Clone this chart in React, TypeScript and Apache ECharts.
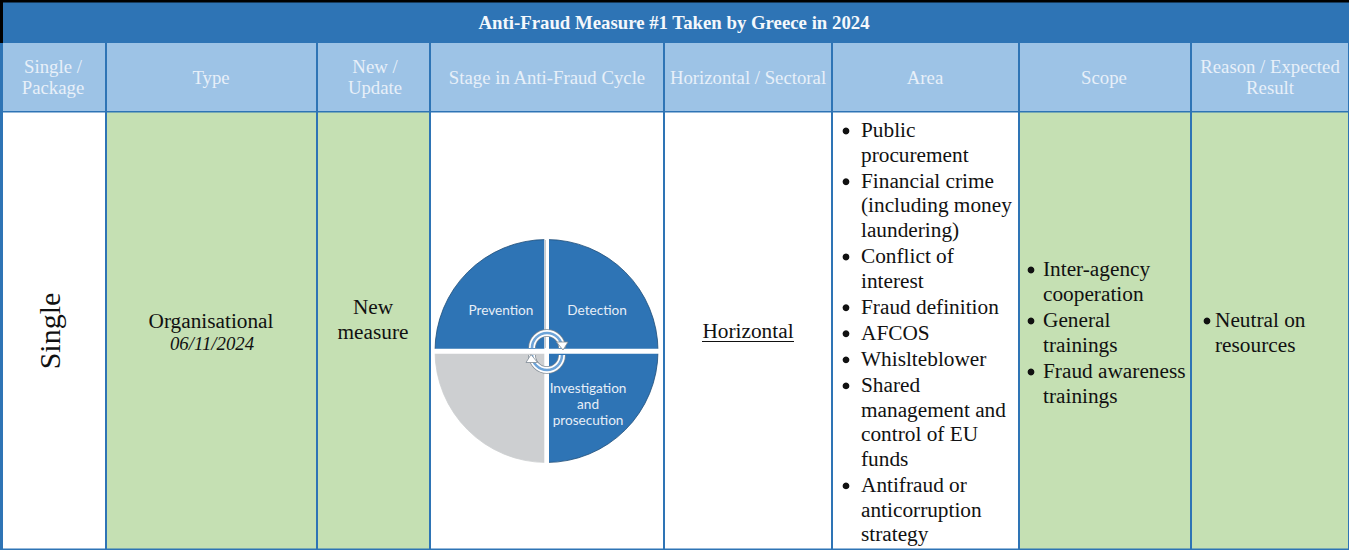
import React, { useEffect, useRef } from "react";
import * as echarts from "echarts";

const title = "Anti-Fraud Measure #1 Taken by Greece in 2024";
const headers = [
  ["Single /", "Package"],
  ["Type"],
  ["New /", "Update"],
  ["Stage in Anti-Fraud Cycle"],
  ["Horizontal / Sectoral"],
  ["Area"],
  ["Scope"],
  ["Reason / Expected", "Result"],
];
const packaging = "Single";
const typeName = "Organisational";
const typeDate = "06/11/2024";
const newUpdate = ["New", "measure"];
const horizontal = "Horizontal";
const areaItems = [
  ["Public", "procurement"],
  ["Financial crime", "(including money", "laundering)"],
  ["Conflict of", "interest"],
  ["Fraud definition"],
  ["AFCOS"],
  ["Whislteblower"],
  ["Shared", "management and", "control of EU", "funds"],
  ["Antifraud or", "anticorruption", "strategy"],
];
const scopeItems = [
  ["Inter-agency", "cooperation"],
  ["General", "trainings"],
  ["Fraud awareness", "trainings"],
];
const reasonItems = [["Neutral on", "resources"]];
const cycleNames = ["Detection", "Investigation\nand\nprosecution", "", "Prevention"];
const cycleValues = [1, 1, 1, 1];

const colX = [1.5, 106, 317, 430, 664, 832, 1019, 1191, 1349];
const labelShift = [[9, 1], [0, 11], [0, 0], [-4, 1]];
const BLUE = "#2e74b5";
const HEAD = "#9dc3e6";
const GREEN = "#c5e0b3";
const SERIF = '"Liberation Serif", serif';
const BODY = 21.3;

function txt(x: number, y: number, text: string, o: any = {}) {
  return {
    type: "text",
    x,
    y,
    z: 5,
    rotation: o.rotation || 0,
    style: {
      text,
      fill: o.fill || "#111",
      font: `${o.style || "normal"} ${o.weight || "normal"} ${o.size || BODY}px ${SERIF}`,
      align: o.align || "center",
      verticalAlign: "middle",
    },
  };
}

function bullets(items: string[][], startY: number, bulletX: number, textX: number, step: number, gap: number) {
  const out: any[] = [];
  let y = startY;
  items.forEach((lines) => {
    out.push({ type: "circle", z: 5, shape: { cx: bulletX, cy: y + 1, r: 3.4 }, style: { fill: "#111" } });
    lines.forEach((l) => {
      out.push(txt(textX, y, l, { align: "left" }));
      y += step;
    });
    y += gap;
  });
  return out;
}

export default function App() {
  const ref = useRef<HTMLDivElement>(null);
  useEffect(() => {
    const chart = echarts.init(ref.current!, null, { renderer: "svg" });
    const el: any[] = [];
    const rect = (x: number, y: number, w: number, h: number, fill: string, z = 0) =>
      el.push({ type: "rect", z, shape: { x, y, width: w, height: h }, style: { fill } });

    rect(0, 0, 1349, 550, "#ffffff");
    rect(0, 0, 1349, 43, BLUE);
    rect(0, 43, 1349, 68, HEAD);
    [1, 2, 6, 7].forEach((i) => rect(colX[i], 112, colX[i + 1] - colX[i], 438, GREEN));
    rect(0, 0, 1349, 2.5, "#000000", 1);
    rect(0, 0, 3, 43, "#000000", 1);
    rect(0, 43, 3, 507, BLUE, 1);
    rect(0, 111, 1349, 1.5, BLUE, 1);
    rect(0, 548.5, 1349, 1.5, BLUE, 1);
    colX.slice(1).forEach((x) => rect(x - 1, 43, 2, 507, BLUE, 1));

    el.push(txt(674, 22.5, title, { fill: "#f4f8fc", weight: "bold", size: 18.8 }));

    const headerCx = [53, 211, 375, 547, 748, 925, 1104, 1270];
    headers.forEach((lines, i) => {
      lines.forEach((l, j) => {
        const y = lines.length === 2 ? 66.3 + j * 21 : 77.3;
        el.push(txt(headerCx[i], y, l, { fill: "#e8f0f9", size: 18.75 }));
      });
    });

    el.push(txt(49.5, 331, packaging, { size: 30, rotation: Math.PI / 2 }));
    el.push(txt(211, 321, typeName));
    el.push(txt(212, 343, typeDate, { style: "italic", size: 18.8 }));
    newUpdate.forEach((l, i) => el.push(txt(373, 307 + i * 25, l)));
    el.push(txt(748, 331, horizontal));
    el.push({ type: "line", z: 5, shape: { x1: 702, y1: 341.5, x2: 794, y2: 341.5 }, style: { stroke: "#111", lineWidth: 1 } });

    el.push(...bullets(areaItems, 130, 846, 861, 24.65, 1.4));
    el.push(...bullets(scopeItems, 269, 1031, 1043, 25, 1));
    el.push(...bullets(reasonItems, 320, 1207, 1215, 24.5, 0));

    // white cross between the quadrants of the cycle
    rect(544.3, 236, 4.7, 230, "#ffffff", 4);
    rect(431, 348.8, 232, 5, "#ffffff", 4);
    rect(544.6, 240, 1.4, 108, "#c9cbcd", 4);

    // cycle arrows
    const arcArrow = (cx: number, cy: number, a0: number, a1: number, pts: number[][]) => {
      const arc = (w: number, stroke: string) =>
        el.push({
          type: "arc",
          z: 4,
          shape: { cx, cy, r: 15, startAngle: a0, endAngle: a1, clockwise: true },
          style: { stroke, lineWidth: w, fill: "none" },
        });
      arc(7.5, "#7f8a94");
      arc(6, "#ffffff");
      arc(2.6, "#6ea4d8");
      el.push({ type: "polygon", z: 4, shape: { points: pts }, style: { fill: "#ffffff", stroke: "#7f8a94", lineWidth: 0.8 } });
    };
    arcArrow(547, 348, Math.PI, Math.PI * 2, [[556.5, 342], [568, 342], [563, 350]]);
    arcArrow(547, 355, 0, Math.PI, [[537.5, 362.5], [526, 362.5], [531, 354.5]]);

    const sliceColors = [BLUE, BLUE, "#cdcfd1", BLUE];
    chart.setOption({
      animation: false,
      graphic: { elements: el },
      series: [
        {
          type: "pie",
          z: 2,
          silent: true,
          center: [546.5, 351],
          radius: [0, 111.5],
          startAngle: 90,
          clockwise: true,
          labelLine: { show: false },
          labelLayout: (p: any) => ({ dx: labelShift[p.dataIndex][0], dy: labelShift[p.dataIndex][1] }),
          data: cycleNames.map((name, i) => ({
            name,
            value: cycleValues[i],
            itemStyle: {
              color: sliceColors[i],
              borderColor: sliceColors[i] === BLUE ? "#1f4e79" : sliceColors[i],
              borderWidth: 0.8,
            },
            label: {
              show: name !== "",
              position: "inside",
              formatter: "{b}",
              color: "#e6eef7",
              fontFamily: "Lato",
              fontSize: 13.6,
              lineHeight: 16,
              align: "center",
            },
          })),
        },
      ],
    });
    return () => chart.dispose();
  }, []);
  return <div ref={ref} style={{ position: "absolute", left: 0, top: 0, width: 1349, height: 550 }} />;
}
